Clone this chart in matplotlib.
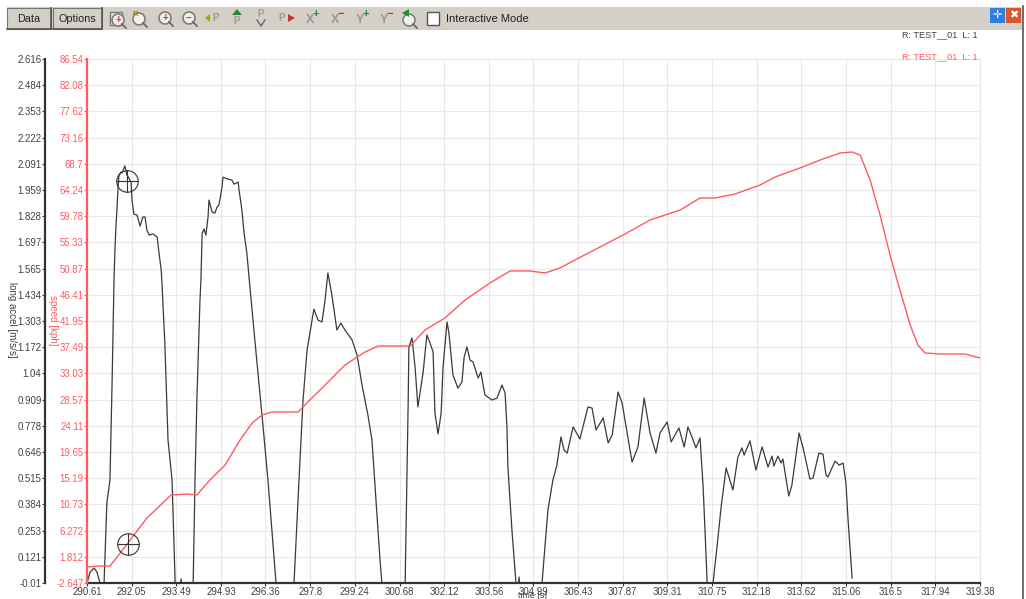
import matplotlib
matplotlib.use("Agg")
import matplotlib.pyplot as plt
from matplotlib.patches import Rectangle, Circle, Polygon

plt.rcParams['font.family'] = ['Liberation Sans', 'DejaVu Sans']

x_ticks = [290.61, 292.05, 293.49, 294.93, 296.36, 297.8, 299.24, 300.68, 302.12, 303.56, 304.99,
           306.43, 307.87, 309.31, 310.75, 312.18, 313.62, 315.06, 316.5, 317.94, 319.38]
accel_ticks = [-0.01, 0.121, 0.253, 0.384, 0.515, 0.646, 0.778, 0.909, 1.04, 1.172, 1.303,
               1.434, 1.565, 1.697, 1.828, 1.959, 2.091, 2.222, 2.353, 2.484, 2.616]
speed_ticks = [-2.647, 1.812, 6.272, 10.73, 15.19, 19.65, 24.11, 28.57, 33.03, 37.49, 41.95,
               46.41, 50.87, 55.33, 59.78, 64.24, 68.7, 73.16, 77.62, 82.08, 86.54]

time_accel = [290.61, 290.71, 290.84, 290.93, 291.03, 291.10, 291.16, 291.25, 291.35, 291.42, 291.48, 291.51,
              291.54, 291.58, 291.61, 291.64, 291.71, 291.74, 291.83, 291.90, 291.96, 292.03, 292.06, 292.12,
              292.22, 292.32, 292.41, 292.48, 292.54, 292.61, 292.74, 292.87, 292.93, 293.00, 293.02, 293.12,
              293.22, 293.35, 293.45, 293.54, 293.58, 293.64, 293.70, 293.96, 294.03, 294.09, 294.15, 294.25,
              294.28, 294.32, 294.38, 294.44, 294.51, 294.54, 294.64, 294.73, 294.80, 294.86, 294.96, 294.99,
              295.15, 295.28, 295.35, 295.48, 295.51, 295.60, 295.67, 295.76, 295.83, 296.02, 296.25, 296.44,
              296.70, 296.80, 297.18, 297.28, 297.44, 297.57, 297.70, 297.86, 297.92, 298.05, 298.18, 298.28,
              298.37, 298.50, 298.66, 298.79, 298.92, 299.15, 299.31, 299.47, 299.66, 299.79, 299.92, 300.05,
              300.11, 300.21, 300.76, 300.86, 300.92, 300.94, 300.96, 300.98, 301.08, 301.18, 301.27, 301.44,
              301.56, 301.66, 301.76, 301.82, 301.92, 302.02, 302.08, 302.21, 302.27, 302.40, 302.56, 302.69,
              302.76, 302.85, 302.95, 303.05, 303.21, 303.30, 303.43, 303.66, 303.82, 303.98, 304.08, 304.14,
              304.17, 304.30, 304.43, 304.48, 304.53, 304.58, 305.14, 305.27, 305.46, 305.62, 305.75, 305.88,
              305.98, 306.08, 306.27, 306.49, 306.75, 306.88, 307.01, 307.24, 307.40, 307.53, 307.72, 307.85,
              308.17, 308.36, 308.56, 308.75, 308.94, 309.07, 309.30, 309.43, 309.68, 309.85, 309.97, 310.10,
              310.23, 310.36, 310.42, 310.46, 310.52, 310.59, 310.65, 310.71, 310.78, 310.94, 311.04, 311.20,
              311.42, 311.58, 311.71, 311.78, 311.97, 312.16, 312.36, 312.55, 312.68, 312.74, 312.87, 312.97,
              313.03, 313.22, 313.32, 313.55, 313.68, 313.90, 314.00, 314.19, 314.32, 314.42, 314.48, 314.71,
              314.84, 314.97, 315.06, 315.13, 315.26]
long_accel = [-0.01, 0.045, 0.065, 0.045, -0.01, -0.07, -0.01, 0.391, 0.506, 1.007, 1.508, 1.659,
              1.769, 1.874, 1.969, 2.034, 2.05, 2.045, 2.08, 2.034, 2.019, 1.999, 1.909, 1.839,
              1.834, 1.779, 1.824, 1.824, 1.759, 1.734, 1.739, 1.724, 1.644, 1.558, 1.508, 1.183,
              0.707, 0.506, -0.01, -0.07, -0.07, 0.01, -0.07, -0.07, -0.01, 0.506, 0.907, 1.408,
              1.508, 1.744, 1.764, 1.734, 1.824, 1.909, 1.849, 1.844, 1.874, 1.884, 1.974, 2.024,
              2.014, 2.009, 1.989, 1.999, 1.959, 1.859, 1.744, 1.644, 1.523, 1.203, 0.827, 0.506,
              -0.01, -0.07, -0.07, -0.01, 0.506, 0.907, 1.158, 1.308, 1.363, 1.308, 1.298, 1.408,
              1.544, 1.433, 1.258, 1.293, 1.258, 1.208, 1.133, 0.982, 0.832, 0.707, 0.406, 0.105,
              -0.01, -0.07, -0.07, -0.01, 0.556, 0.722, 0.922, 1.173, 1.218, 1.072, 0.872, 1.047,
              1.233, 1.193, 1.148, 0.842, 0.737, 0.842, 1.072, 1.298, 1.243, 1.032, 0.967, 0.997,
              1.122, 1.173, 1.107, 1.097, 1.017, 1.047, 0.932, 0.907, 0.917, 0.982, 0.942, 0.772,
              0.571, 0.256, -0.01, -0.07, 0.02, -0.07, -0.07, -0.01, 0.356, 0.506, 0.581, 0.722,
              0.656, 0.641, 0.772, 0.712, 0.872, 0.867, 0.757, 0.817, 0.692, 0.732, 0.947, 0.892,
              0.596, 0.672, 0.917, 0.742, 0.641, 0.742, 0.797, 0.697, 0.767, 0.672, 0.772, 0.722,
              0.667, 0.717, 0.571, 0.471, 0.256, -0.01, -0.07, -0.07, -0.01, 0.22, 0.371, 0.566,
              0.456, 0.621, 0.667, 0.631, 0.702, 0.556, 0.672, 0.571, 0.626, 0.576, 0.626, 0.591,
              0.611, 0.426, 0.481, 0.742, 0.667, 0.511, 0.516, 0.641, 0.636, 0.531, 0.521, 0.601,
              0.581, 0.591, 0.491, 0.306, 0.015]

time_speed = [290.61, 291.03, 291.35, 291.58, 291.93, 292.54, 293.32, 293.83, 294.15, 294.57, 295.06, 295.54,
              295.93, 296.25, 296.57, 297.41, 297.79, 298.28, 298.92, 299.57, 299.99, 301.02, 301.50, 302.14,
              302.79, 303.59, 304.24, 304.88, 305.37, 305.85, 306.33, 307.14, 307.94, 308.75, 309.72, 310.36,
              310.84, 311.49, 312.29, 312.78, 313.58, 314.23, 314.87, 315.26, 315.52, 315.84, 316.16, 316.48,
              316.80, 317.13, 317.38, 317.61, 318.09, 318.90, 319.38]
speed = [0.076, 0.246, 0.246, 1.778, 4.161, 8.416, 12.33, 12.50, 12.33, 14.88, 17.44, 21.69,
         24.58, 25.95, 26.46, 26.46, 28.50, 31.05, 34.46, 36.67, 37.69, 37.69, 40.41, 42.46,
         45.52, 48.41, 50.46, 50.46, 50.12, 50.97, 52.33, 54.54, 56.75, 59.14, 60.84, 62.88,
         62.88, 63.56, 65.09, 66.45, 67.99, 69.35, 70.54, 70.71, 70.20, 65.94, 59.99, 53.18,
         47.22, 41.27, 37.86, 36.50, 36.33, 36.33, 35.65]

cursor_time = [291.90, 291.93]
cursor_accel = 2.004
cursor_speed = 3.99

W, H = 1026, 599
BLACK = '#333333'
TXT = '#404040'
RED = '#ff5a5f'
TICK_FS = 6.9

fig = plt.figure(figsize=(W / 100, H / 100), dpi=100, facecolor='white')

# full-figure overlay in pixel coordinates for the window chrome
ui = fig.add_axes([0, 0, 1, 1], zorder=5)
ui.set_xlim(0, W)
ui.set_ylim(H, 0)
ui.axis('off')
ui.patch.set_alpha(0)

ax = fig.add_axes([87 / W, (H - 583) / H, 893 / W, 524 / H], zorder=1)
ax.set_xlim(x_ticks[0], x_ticks[-1])
ax.set_ylim(accel_ticks[0], accel_ticks[-1])
ax.set_xticks(x_ticks)
ax.set_xticklabels([f'{v:g}' for v in x_ticks])
ax.set_yticks(accel_ticks)
ax.set_yticklabels([f'{v:g}' for v in accel_ticks])
ax.grid(True, color='#e8e8e8', lw=0.8)
ax.set_axisbelow(True)
for s in ('top', 'right'):
    ax.spines[s].set_color('#e8e8e8')
    ax.spines[s].set_linewidth(0.8)
ax.spines['left'].set_position(('outward', 42 * 0.72))
ax.spines['left'].set_color(BLACK)
ax.spines['left'].set_linewidth(1.6)
ax.spines['bottom'].set_color(BLACK)
ax.spines['bottom'].set_linewidth(1.6)
ax.tick_params(axis='x', colors=TXT, labelsize=TICK_FS, length=2, width=0.8, pad=0.8, color=BLACK)
ax.tick_params(axis='y', colors=TXT, labelsize=TICK_FS, length=2, width=0.8, pad=0.5, color=BLACK)
ax.plot(time_accel, long_accel, color='#3a3a3a', lw=0.9, zorder=3)
ax.plot(cursor_time[0], cursor_accel, marker='o', ms=15.5, mfc='none', mec='#333333', mew=0.8, zorder=4)
ax.plot(cursor_time[0], cursor_accel, marker='+', ms=15.5, mec='#333333', mew=0.8, zorder=4)

ax2 = ax.twinx()
ax2.set_zorder(2)
ax2.patch.set_alpha(0)
ax2.set_ylim(speed_ticks[0], speed_ticks[-1])
ax2.set_yticks(speed_ticks)
ax2.set_yticklabels([f'{v:g}' for v in speed_ticks])
ax2.yaxis.set_ticks_position('left')
ax2.yaxis.set_label_position('left')
for s in ('top', 'right', 'bottom'):
    ax2.spines[s].set_visible(False)
ax2.spines['left'].set_color(RED)
ax2.spines['left'].set_linewidth(1.6)
ax2.tick_params(axis='y', colors=RED, labelsize=TICK_FS, length=2, width=0.8, pad=0.5)
ax2.plot(time_speed, speed, color=RED, lw=1.0, zorder=3)
ax2.plot(cursor_time[1], cursor_speed, marker='o', ms=15.5, mfc='none', mec='#333333', mew=0.8, zorder=4)
ax2.plot(cursor_time[1], cursor_speed, marker='+', ms=15.5, mec='#333333', mew=0.8, zorder=4)

# axis titles and run labels
ui.text(12, 320, 'long accel [m/s/s]', rotation=270, ha='center', va='center', fontsize=7, color=TXT)
ui.text(53, 320, 'speed [kph]', rotation=270, ha='center', va='center', fontsize=7, color=RED)
ui.text(533, 596, 'time [s]', ha='center', va='center', fontsize=6.4, color=TXT)
ui.text(978, 35, 'R: TEST__01  L: 1', ha='right', va='center', fontsize=6.6, color=TXT)
ui.text(978, 57, 'R: TEST__01  L: 1', ha='right', va='center', fontsize=6.6, color=RED)

# toolbar
GREY = '#d4d0c8'
ui.add_patch(Rectangle((7, 7), 1015, 23, fc=GREY, ec='none'))
ui.plot([1023, 1023], [6, 599], color='#555555', lw=1.2)
for x0, w, label in [(7, 44, 'Data'), (53, 49, 'Options')]:
    ui.add_patch(Rectangle((x0, 8), w, 21, fc=GREY, ec='#777777', lw=0.8))
    ui.plot([x0, x0 + w, x0 + w], [29, 29, 8], color='#555555', lw=1.2)
    ui.text(x0 + w / 2, 18.5, label, ha='center', va='center', fontsize=7.8, color='#222222')


def lens(x, y, c=None, sym=None):
    ui.add_patch(Circle((x, y), 6, fc='#f0efea', ec='#777777', lw=1.1))
    ui.plot([x + 4, x + 8], [y + 4, y + 8], color='#666666', lw=1.2)
    if sym:
        ui.text(x, y, sym, ha='center', va='center', fontsize=7, color=c, fontweight='bold')


def letter(x, y, s, c, mark):
    ui.text(x, y + 2, s, ha='center', va='center', fontsize=9, color='#999999', fontweight='bold')
    ui.text(x + 6, y - 4, mark, ha='center', va='center', fontsize=8, color=c, fontweight='bold')


ui.add_patch(Rectangle((110, 12), 12, 13, fc='#eeeeee', ec='#777777', lw=1))
lens(118, 20, '#d33', '+')
lens(139, 19)
ui.text(135, 14, 'R', ha='center', va='center', fontsize=5.5, color='#a08000', fontweight='bold')
lens(165, 18, '#d33', '+')
lens(189, 18, '#d33', '\u2212')
ui.add_patch(Polygon([[205, 18], [210, 14], [210, 22]], fc='#b8a000', ec='none'))
ui.text(216, 18, 'P', ha='center', va='center', fontsize=7, color='#999999', fontweight='bold')
ui.add_patch(Polygon([[237, 9], [232, 15], [242, 15]], fc='#2a8a3a', ec='none'))
ui.text(237, 21, 'P', ha='center', va='center', fontsize=7, color='#999999', fontweight='bold')
ui.text(261, 14, 'P', ha='center', va='center', fontsize=7, color='#999999', fontweight='bold')
ui.plot([257, 261, 265], [20, 26, 20], color='#666666', lw=1)
ui.text(282, 18, 'P', ha='center', va='center', fontsize=7, color='#999999', fontweight='bold')
ui.add_patch(Polygon([[295, 18], [288, 14], [288, 22]], fc='#c8322a', ec='none'))
letter(310, 18, 'X', '#1f8a3a', '+')
letter(335, 18, 'X', '#c8322a', '\u2212')
letter(360, 18, 'Y', '#1f8a3a', '+')
letter(384, 18, 'Y', '#c8322a', '\u2212')
lens(409, 20)
ui.add_patch(Polygon([[402, 13], [409, 9], [409, 17]], fc='#1f8a3a', ec='none'))
ui.add_patch(Rectangle((427, 12), 12, 13, fc='white', ec='#555555', lw=1))
ui.text(446, 18.5, 'Interactive Mode', ha='left', va='center', fontsize=8, color='#222222')

ui.add_patch(Rectangle((990, 8), 15, 15, fc='#2f7fe0', ec='none'))
ui.text(997.5, 15.5, '\u271b', ha='center', va='center', fontsize=8, color='white', family='DejaVu Sans')
ui.add_patch(Rectangle((1006, 8), 15, 15, fc='#d9562a', ec='none'))
ui.text(1013.5, 15.5, '\u2716', ha='center', va='center', fontsize=8, color='white', family='DejaVu Sans')

fig.savefig('out.png', dpi=100, facecolor='white')
